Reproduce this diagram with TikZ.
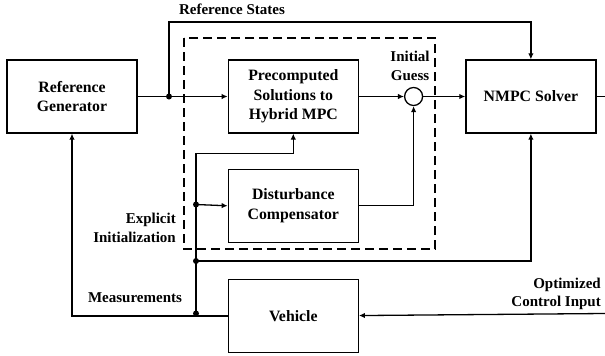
\documentclass[tikz,border=0pt]{standalone}
\usepackage{fontspec}
\setmainfont{Liberation Serif}
\usepackage{tikz}
\usetikzlibrary{shapes,arrows,arrows.meta,positioning,calc}

\begin{document}
\begin{tikzpicture}[x=1pt, y=-1pt, auto,
    block/.style={rectangle, draw, line width=1.3pt, minimum width=130pt, minimum height=73pt, align=center, font=\fontsize{15.8}{19.5}\selectfont\bfseries},
    sumpt/.style={circle, draw, line width=1.3pt, minimum size=18pt, inner sep=0pt},
    lbl/.style={font=\fontsize{15}{18.5}\selectfont\bfseries, inner sep=0pt},
    dot/.style={circle, fill, inner sep=0pt, minimum size=6pt},
    line/.style={draw, -{Latex[length=6pt,width=5.5pt]}, line width=1.3pt},
    wire/.style={draw, line width=1.3pt},
    dashedbox/.style={draw, line width=2.3pt, dash pattern=on 9pt off 5pt}]
    \useasboundingbox (0,0) rectangle (605,356);

    % Top row - reference, precomputed solutions, solver
    \node [block] (gen) at (72,96.5) {Reference\\Generator};
    \node [block, right=90pt of gen] (pre) {Precomputed\\Solutions to\\Hybrid MPC};
    \node [sumpt, right=45pt of pre] (sum) {};
    \node [block, right=42pt of sum] (nmpc) {NMPC Solver};

    % Middle and bottom rows
    \node [block, below=35pt of pre] (dist) {Disturbance\\Compensator};
    \node [block, below=36pt of dist] (veh) {Vehicle};

    % Explicit initialization frame
    \draw [dashedbox] (184,38) rectangle (435,249);

    % Junctions and free ends
    \coordinate (j1) at (169,96.5);
    \coordinate (rs) at (169,22);
    \coordinate (bus) at (196,313.5);
    \coordinate (bdist) at (196,204.5);
    \coordinate (bnmpc) at (196,261);
    \coordinate (uout) at (605,96.5);
    \coordinate (uin) at (605,313.5);

    % Flow connections
    \path [line] (gen) -- (pre);
    \path [line] (j1) -- (rs) -| (nmpc.north);
    \path [line] (pre) -- (sum);
    \path [line] (sum) -- (nmpc);
    \path [wire] (nmpc) -- (uout);
    \path [line] (dist.east) -| (sum.south);
    \path [line] (uin) -- (veh);
    \path [line] (veh.west) -| (gen.south);
    \path [line] (bus) |- ($(pre.south)+(0,20)$) -- (pre.south);
    \path [line] (bdist) -- (dist.west);
    \path [line] (bnmpc) -| (nmpc.south);

    % Junction dots
    \foreach \j in {j1,bus,bdist,bnmpc}
        \node [dot] at (\j) {};

    % Labels
    \node [lbl] (lrs) at (232,9) {Reference States};
    \node [lbl, align=center] (lig) at (410,66) {Initial\\Guess};
    \node [lbl, align=right, anchor=east] (lei) at (176,228) {Explicit\\Initialization};
    \node [lbl] (lme) at (135,298) {Measurements};
    \node [lbl, align=right, anchor=east] (lci) at (601,294) {Optimized\\Control Input};
\end{tikzpicture}
\end{document}
